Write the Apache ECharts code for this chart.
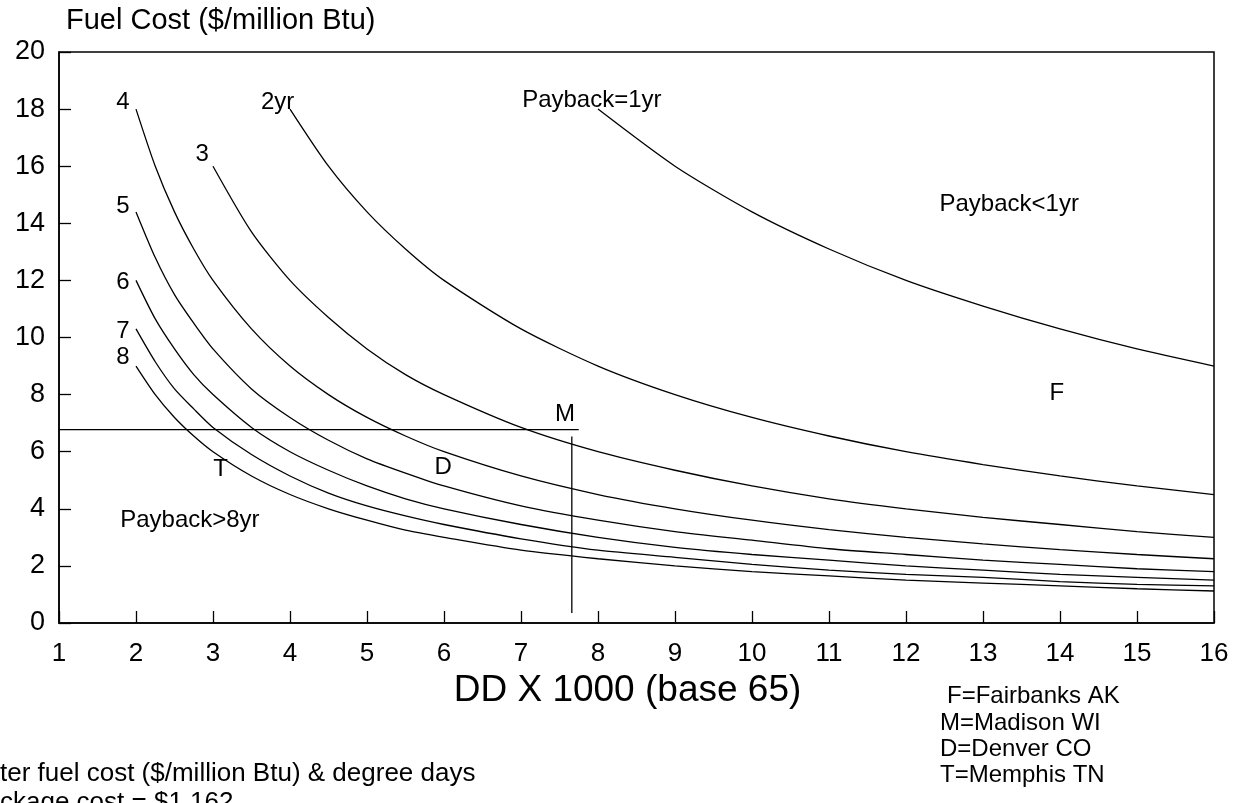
<!DOCTYPE html>
<html>
<head>
<meta charset="utf-8">
<script src="https://cdn.jsdelivr.net/npm/echarts@6/dist/echarts.min.js"></script>
<style>
html,body{margin:0;padding:0;background:#fff;}
#chart{width:1234px;height:803px;}
</style>
</head>
<body>
<div id="chart"></div>
<script>
// Degree days x 1000 (base 65) at which curve values were read
const ddX = [2, 2.25, 2.5, 2.75, 3, 3.5, 4, 4.5, 5, 5.5, 6, 7, 8, 9, 10, 11, 12, 13, 14, 15, 16];
// Fuel cost ($/million Btu) for each payback period curve
const payback1 = [null, null, null, null, null, null, null, null, null, null, null, null, 18, 16, 14.4, 13.1, 12, 11.1, 10.3, 9.6, 9.0];
const payback2 = [null, null, null, null, null, null, 18, 16, 14.4, 13.1, 12, 10.3, 9, 8, 7.2, 6.55, 6, 5.55, 5.15, 4.8, 4.5];
const payback3 = [null, null, null, null, 16, 13.7, 12, 10.7, 9.6, 8.7, 8, 6.85, 6, 5.35, 4.8, 4.35, 4, 3.7, 3.45, 3.2, 3.0];
const payback4 = [18, 16, 14.4, 13.1, 12, 10.3, 9, 8, 7.2, 6.55, 6, 5.15, 4.5, 4, 3.6, 3.27, 3, 2.77, 2.57, 2.4, 2.25];
const payback5 = [14.4, 12.8, 11.5, 10.5, 9.6, 8.2, 7.2, 6.4, 5.75, 5.25, 4.8, 4.1, 3.6, 3.2, 2.9, 2.6, 2.4, 2.2, 2.05, 1.9, 1.8];
const payback6 = [12, 10.65, 9.6, 8.7, 8, 6.85, 6, 5.35, 4.8, 4.35, 4, 3.45, 3, 2.65, 2.4, 2.2, 2, 1.85, 1.7, 1.6, 1.5];
const payback7 = [10.3, 9.15, 8.2, 7.5, 6.85, 5.9, 5.15, 4.55, 4.1, 3.75, 3.45, 2.95, 2.55, 2.3, 2.05, 1.85, 1.7, 1.6, 1.45, 1.35, 1.3];
const payback8 = [9, 8, 7.2, 6.55, 6, 5.15, 4.5, 4, 3.6, 3.25, 3, 2.55, 2.25, 2, 1.8, 1.65, 1.5, 1.4, 1.3, 1.2, 1.12];
const curveNames = ['1yr', '2yr', '3yr', '4yr', '5yr', '6yr', '7yr', '8yr'];
const curveValues = [payback1, payback2, payback3, payback4, payback5, payback6, payback7, payback8];

// Madison example lines (fuel cost level and degree days)
const madisonCostLine = [[1, 6.77], [7.75, 6.77]];
const madisonDDLine = [[7.66, 6.53], [7.66, 0.35]];

// In-plot annotations
const annotTexts = ['4', '2yr', '3', 'Payback=1yr', '5', '6', '7', '8', 'Payback<1yr', 'F', 'M', 'D', 'T', 'Payback>8yr'];
const annotX = [1.83, 3.84, 2.86, 7.92, 1.83, 1.83, 1.83, 1.83, 13.34, 13.96, 7.57, 5.99, 3.10, 2.70];
const annotY = [18.25, 18.25, 16.4, 18.3, 14.6, 11.93, 10.2, 9.3, 14.67, 8.04, 7.3, 5.44, 5.37, 3.6];

// Axis ticks
const xTicks = [1, 16, 1];   // min, max, interval
const yTicks = [0, 20, 2];

const legendLines = ['F=Fairbanks AK', 'M=Madison WI', 'D=Denver CO', 'T=Memphis TN'];
const noteLines = ['ter fuel cost ($/million Btu) & degree days', 'ckage cost = $1,162'];

const FONT = '"Liberation Sans", Arial, Helvetica, sans-serif';
const chart = echarts.init(document.getElementById('chart'), null, {renderer: 'canvas'});

const series = curveValues.map((vals, i) => ({
  name: curveNames[i],
  type: 'line',
  data: ddX.map((x, j) => [x, vals[j]]).filter(p => p[1] != null),
  showSymbol: false,
  symbol: 'none',
  smooth: 0.25,
  lineStyle: {color: '#000', width: 1.3},
  silent: true,
  z: 3
}));

series.push({
  name: 'cost', type: 'line', data: madisonCostLine, symbol: 'none',
  lineStyle: {color: '#000', width: 1.3}, silent: true, z: 3
});
series.push({
  name: 'dd', type: 'line', data: madisonDDLine, symbol: 'none',
  lineStyle: {color: '#000', width: 1.3}, silent: true, z: 3
});
series.push({
  name: 'labels', type: 'scatter', symbolSize: 0, silent: true, z: 5,
  itemStyle: {opacity: 1, color: '#000'},
  data: annotTexts.map((t, i) => ({name: t, value: [annotX[i], annotY[i]]})),
  label: {show: true, position: 'inside', formatter: '{b}', color: '#000', opacity: 1,
          textBorderWidth: 0, fontSize: 24, fontFamily: FONT}
});

const option = {
  backgroundColor: '#fff',
  animation: false,
  grid: {left: 59, right: 20, top: 52, bottom: 180, show: true,
         borderColor: '#000', borderWidth: 1.5, backgroundColor: 'transparent'},
  xAxis: {
    type: 'value', min: xTicks[0], max: xTicks[1], interval: xTicks[2],
    name: 'DD X 1000 (base 65)', nameLocation: 'middle', nameGap: 46,
    nameTextStyle: {fontSize: 37, color: '#000', fontFamily: FONT, padding: [0, 18, 0, 0]},
    axisLine: {lineStyle: {color: '#000', width: 1.5}},
    axisTick: {inside: true, length: 12, lineStyle: {color: '#000', width: 1.3}},
    axisLabel: {fontSize: 26, color: '#000', fontFamily: FONT, margin: 18},
    splitLine: {show: false}
  },
  yAxis: {
    type: 'value', min: yTicks[0], max: yTicks[1], interval: yTicks[2],
    axisLine: {show: true, lineStyle: {color: '#000', width: 1.5}},
    axisTick: {show: true, inside: true, length: 12, lineStyle: {color: '#000', width: 1.3}},
    axisLabel: {fontSize: 27, color: '#000', fontFamily: FONT, margin: 14},
    splitLine: {show: false}
  },
  graphic: [
    {type: 'text', left: 66, top: 6, silent: true,
     style: {text: 'Fuel Cost ($/million Btu)', fontSize: 29, fill: '#000', fontFamily: FONT}},
    {type: 'text', left: 947, top: 684, silent: true,
     style: {text: legendLines[0], fontSize: 24, fill: '#000', fontFamily: FONT}},
    {type: 'text', left: 940, top: 711, silent: true,
     style: {text: legendLines[1], fontSize: 24, fill: '#000', fontFamily: FONT}},
    {type: 'text', left: 940, top: 737, silent: true,
     style: {text: legendLines[2], fontSize: 24, fill: '#000', fontFamily: FONT}},
    {type: 'text', left: 940, top: 763, silent: true,
     style: {text: legendLines[3], fontSize: 24, fill: '#000', fontFamily: FONT}},
    {type: 'text', left: 0, top: 761, silent: true,
     style: {text: noteLines[0], fontSize: 26, fill: '#000', fontFamily: FONT}},
    {type: 'text', left: 0, top: 790, silent: true,
     style: {text: noteLines[1], fontSize: 26, fill: '#000', fontFamily: FONT}}
  ],
  series: series
};
chart.setOption(option);
</script>
</body>
</html>
